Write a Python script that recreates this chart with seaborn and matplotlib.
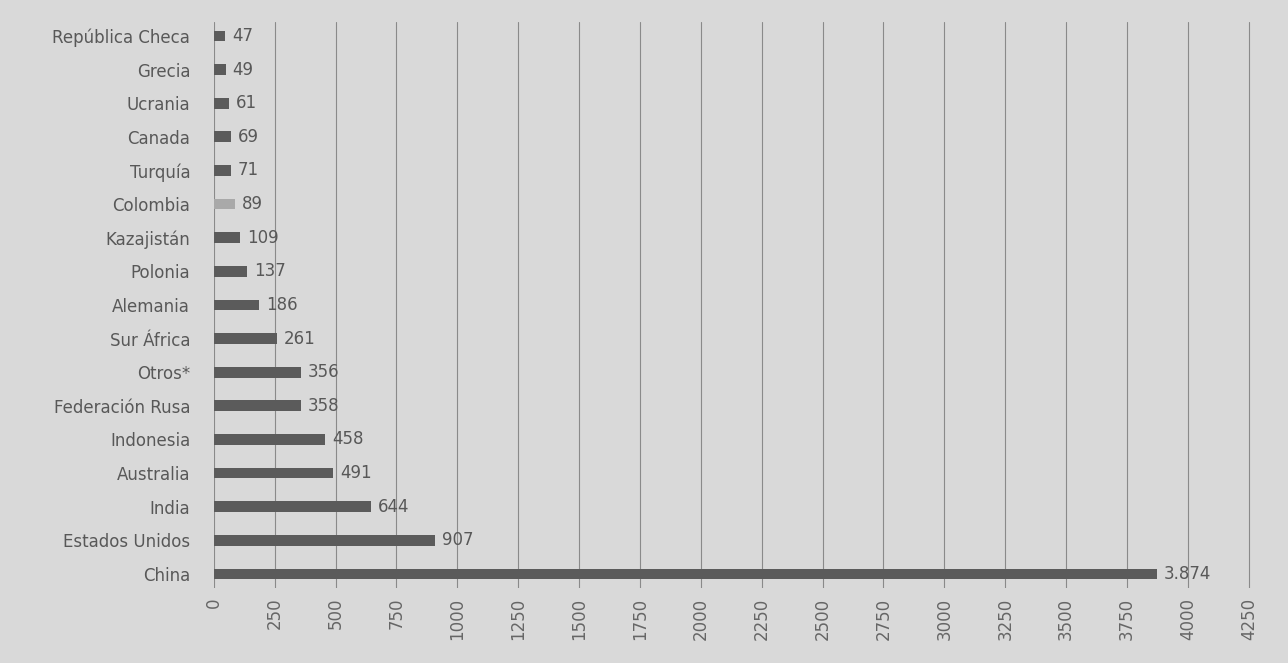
import matplotlib
matplotlib.use("Agg")
import matplotlib.pyplot as plt
import seaborn as sns
import pandas as pd

countries = ["República Checa", "Grecia", "Ucrania", "Canada", "Turquía", "Colombia",
             "Kazajistán", "Polonia", "Alemania", "Sur África", "Otros*", "Federación Rusa",
             "Indonesia", "Australia", "India", "Estados Unidos", "China"]
values = [47, 49, 61, 69, 71, 89, 109, 137, 186, 261, 356, 358, 458, 491, 644, 907, 3874]
value_labels = ["47", "49", "61", "69", "71", "89", "109", "137", "186", "261", "356",
                "358", "458", "491", "644", "907", "3.874"]
xticks = list(range(0, 4251, 250))

sns.set_theme(style="white")
plt.rcParams['font.family'] = ['DejaVu Sans']

bg = "#d9d9d9"
dark = "#5b5b5b"
light = "#a9a9a9"
txt = "#585858"
palette = {c: (light if c == "Colombia" else dark) for c in countries}

df = pd.DataFrame({"pais": countries, "valor": values})

fig = plt.figure(figsize=(12.88, 6.63), dpi=100, facecolor=bg)
ax = fig.add_axes([0.166, 0.113, 0.813, 0.854])
ax.set_facecolor(bg)

sns.barplot(data=df, y="pais", x="valor", hue="pais", palette=palette, orient="h",
            width=0.32, legend=False, ax=ax, order=countries, hue_order=countries,
            saturation=1, linewidth=0)

for i, (v, lab) in enumerate(zip(values, value_labels)):
    ax.text(v + 28, i, lab, va="center", ha="left", fontsize=12, color=txt)

ax.set_xlim(0, 4300)
ax.set_ylim(16.42, -0.42)
ax.set_xticks(xticks)
ax.set_xticklabels([str(t) for t in xticks], rotation=90, fontsize=12, color="#666666")
ax.tick_params(axis="y", labelsize=12, labelcolor=txt, length=0, pad=17)
ax.tick_params(axis="x", length=0, pad=7)
ax.xaxis.grid(True, color="#8a8a8a", linewidth=0.8)
ax.set_axisbelow(True)
for s in ax.spines.values():
    s.set_visible(False)
ax.set_xlabel("")
ax.set_ylabel("")

fig.savefig("out.png", dpi=100, facecolor=bg)
